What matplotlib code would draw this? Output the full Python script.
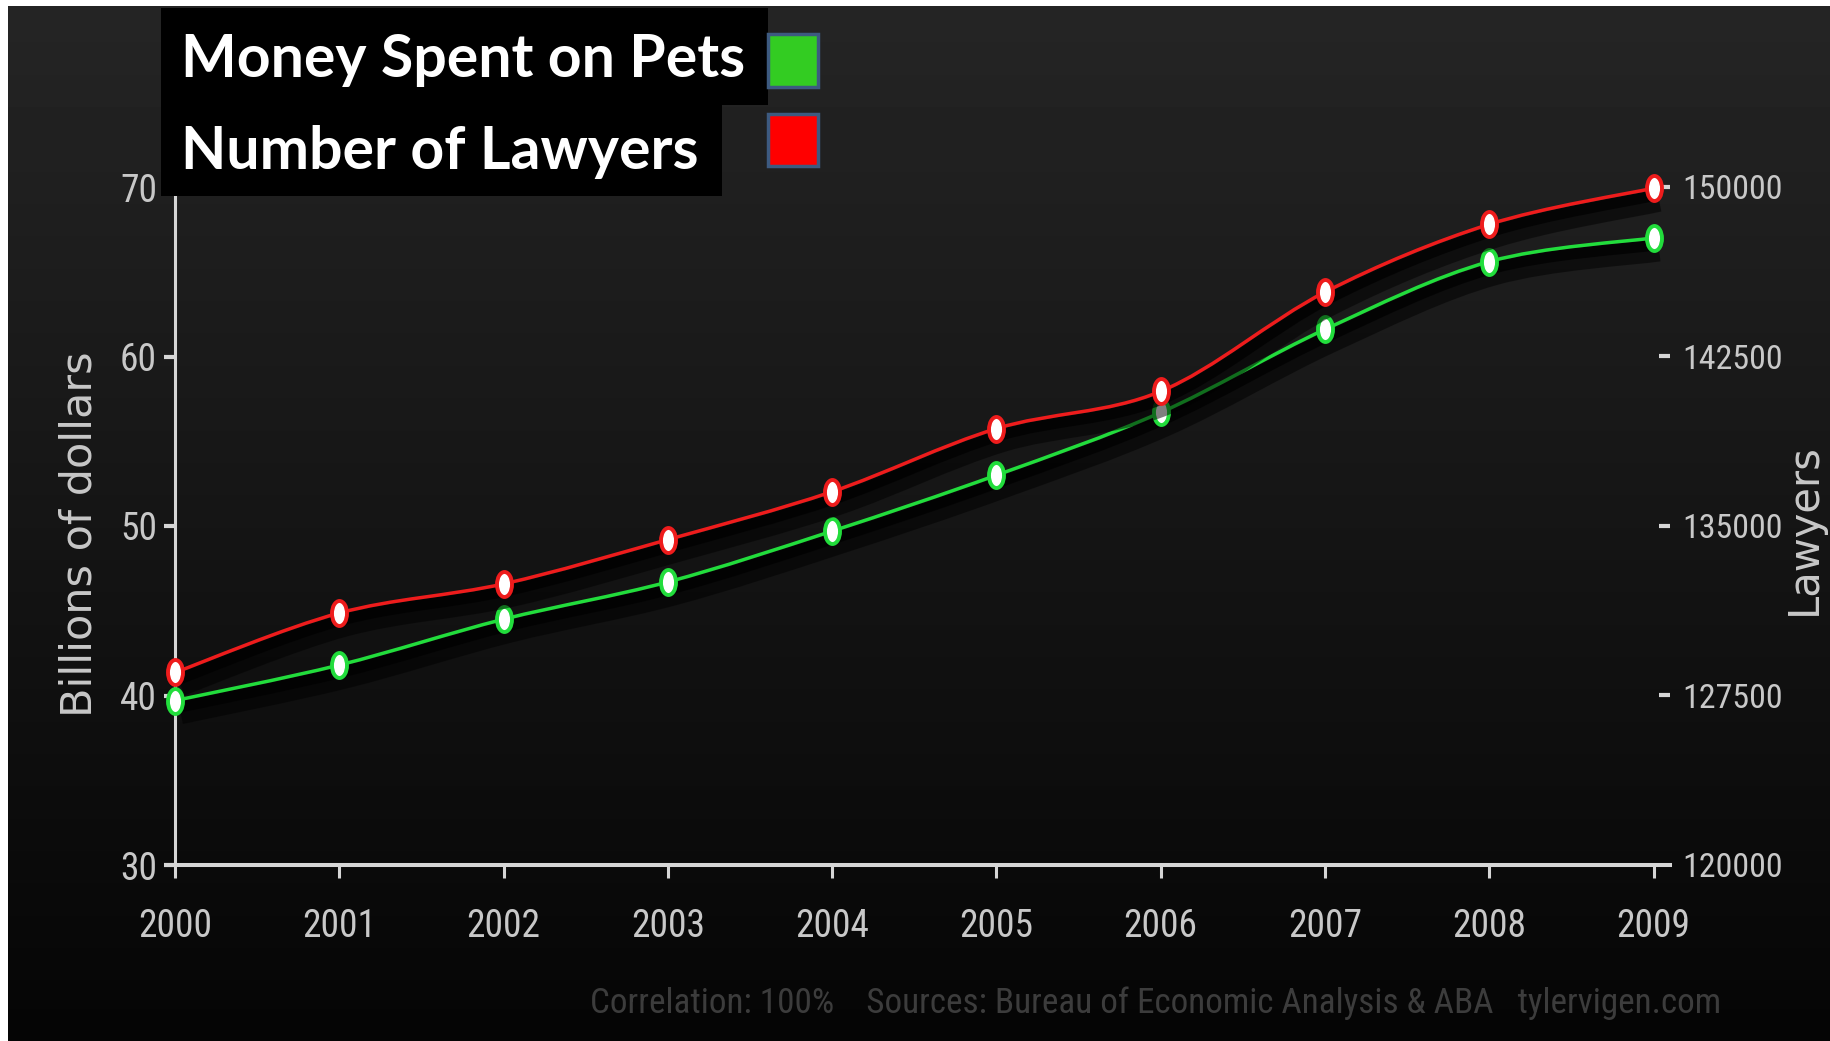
import matplotlib.pyplot as plt
import matplotlib.patheffects as pe
import numpy as np
from matplotlib.path import Path
from matplotlib.patches import PathPatch, Rectangle
from matplotlib.transforms import Affine2D

# ------------------------------
# Data
# ------------------------------
years = [2000, 2001, 2002, 2003, 2004, 2005, 2006, 2007, 2008, 2009]
pet_spending = [39.7, 41.8, 44.5, 46.7, 49.7, 53.0, 56.7, 61.6, 65.6, 67.0]      # billions of dollars
lawyers = [128520, 131150, 132440, 134400, 136520, 139310, 140960, 145350, 148350, 149950]

left_ticks = [30, 40, 50, 60, 70]
right_ticks = [120000, 127500, 135000, 142500, 150000]
grey_left = [40, 60]
grey_right = [127500, 142500]

pet_label = "Money Spent on Pets"
lawyer_label = "Number of Lawyers"
credit = "Correlation: 100%    Sources: Bureau of Economic Analysis & ABA   tylervigen.com"

# ------------------------------
# Style
# ------------------------------
W, H = 1831, 1041
green = "#22dd3c"
red = "#ee1c1c"
axis_col = "#d6d6d6"
label_col = "#c8c8c8"
narrow = ["Roboto Condensed", "Roboto", "DejaVu Sans"]


def spline_path(x, y):
    # Catmull-Rom spline through the points, written as cubic Bezier segments
    p = np.column_stack([x, y]).astype(float)
    pts = np.vstack([p[0], p, p[-1]])
    verts = [p[0]]
    codes = [Path.MOVETO]
    for i in range(1, len(pts) - 2):
        c1 = pts[i] + (pts[i + 1] - pts[i - 1]) / 6.0
        c2 = pts[i + 1] - (pts[i + 2] - pts[i]) / 6.0
        verts += [c1, c2, pts[i + 1]]
        codes += [Path.CURVE4] * 3
    return Path(verts, codes)


shadow = [pe.SimpleLineShadow(offset=(4, -9), shadow_color="black", alpha=0.5, linewidth=16),
          pe.SimpleLineShadow(offset=(2, -5), shadow_color="black", alpha=0.7, linewidth=8),
          pe.Normal()]
ellipse = Path.unit_circle().transformed(Affine2D().scale(0.6, 1.0))

fig = plt.figure(figsize=(W / 100, H / 100), dpi=100, facecolor="white")

# dark gradient backdrop
bg = fig.add_axes([8 / W, 0, 1 - 8 / W, 1 - 6 / H], zorder=-5)
grad = np.linspace(0.02, 0.145, 256).reshape(-1, 1)
bg.imshow(grad, aspect="auto", cmap="gray", vmin=0, vmax=1, origin="lower", extent=[0, 1, 0, 1])
bg.axis("off")

# ------------------------------
# Axes
# ------------------------------
ax = fig.add_axes([166 / W, 1 - 865 / H, (1670 - 166) / W, (865 - 187) / H])
ax.set_facecolor("none")
ax.set_xlim(1999.945, 2009.10)
ax.set_ylim(30, 70)
ax2 = ax.twinx()
ax2.set_ylim(120000, 150000)

for s in ["top", "right"]:
    ax.spines[s].set_visible(False)
for s in ax2.spines.values():
    s.set_visible(False)
ax.spines["left"].set_position(("data", 2000))
ax.spines["left"].set_color(axis_col)
ax.spines["left"].set_linewidth(2.2)
ax.spines["bottom"].set_color(axis_col)
ax.spines["bottom"].set_linewidth(2.9)

ax.set_xticks(years)
ax.set_xticklabels([str(y) for y in years])
ax.tick_params(axis="x", direction="out", length=9, width=2.2, color=axis_col,
               labelcolor=label_col, labelsize=27, pad=22, labelfontfamily=narrow)
ax.set_yticks(left_ticks)
ax.tick_params(axis="y", direction="out", length=8, width=3, color=axis_col,
               labelcolor=label_col, labelsize=27, pad=5, labelfontfamily=narrow)
for t, v in zip(ax.yaxis.get_major_ticks(), left_ticks):
    if v in grey_left:
        t.tick1line.set_color("#8c8c8c")

ax2.set_yticks(right_ticks)
ax2.set_yticklabels([str(v) for v in right_ticks])
ax2.tick_params(axis="y", direction="in", length=8, width=3, color=axis_col,
                labelcolor=label_col, labelsize=24.5, pad=9, labelfontfamily=narrow)
for t, v in zip(ax2.yaxis.get_major_ticks(), right_ticks):
    if v in grey_right:
        t.tick2line.set_color("#8c8c8c")
    if v == 120000:
        t.tick2line.set_visible(False)

ax.set_ylabel("Billions of dollars", color=label_col, fontsize=31)
ax.yaxis.set_label_coords((80 - 166) / 1504, 0.488)
ax.yaxis.label.set_va("center")
ax2.set_ylabel("Lawyers", color=label_col, fontsize=30, rotation=90)
ax2.yaxis.set_label_coords(1 + (1804 - 1670) / 1504, 0.495)
ax2.yaxis.label.set_va("center")

# ------------------------------
# Lines and markers
# ------------------------------
ax.add_patch(PathPatch(spline_path(years, pet_spending), fill=False, edgecolor=green,
                       linewidth=2.5, path_effects=shadow, zorder=3, clip_on=False))
ax.plot(years, pet_spending, linestyle="none", marker=ellipse, markersize=18,
        markerfacecolor="white", markeredgecolor=green, markeredgewidth=2.8, zorder=4, clip_on=False)

ax2.add_patch(PathPatch(spline_path(years, lawyers), fill=False, edgecolor=red,
                        linewidth=2.5, path_effects=shadow, zorder=3, clip_on=False))
ax2.plot(years, lawyers, linestyle="none", marker=ellipse, markersize=18,
         markerfacecolor="white", markeredgecolor=red, markeredgewidth=2.8, zorder=4, clip_on=False)

# ------------------------------
# Legend boxes
# ------------------------------
def fig_rect(x0, y0, x1, y1, **kw):
    fig.add_artist(Rectangle((x0 / W, 1 - y1 / H), (x1 - x0) / W, (y1 - y0) / H,
                             transform=fig.transFigure, **kw))


fig_rect(161, 8, 768, 105, facecolor="black", edgecolor="none", zorder=10)
fig_rect(161, 105, 722, 196, facecolor="black", edgecolor="none", zorder=10)
fig_rect(768, 34, 818, 87, facecolor="#33cc22", edgecolor="#3d5a80", linewidth=2.5, zorder=10)
fig_rect(768, 114, 818, 166, facecolor="#ff0000", edgecolor="#3d5a80", linewidth=2.5, zorder=10)

fig.text(181 / W, 1 - 60 / H, pet_label, color="white", fontsize=42.5, fontweight="bold",
         family="Lato", va="center", ha="left", zorder=11)
fig.text(181 / W, 1 - 152 / H, lawyer_label, color="white", fontsize=42.5, fontweight="bold",
         family="Lato", va="center", ha="left", zorder=11)

fig.text(590 / W, 1 - 1003 / H, credit, color="#3c3c3c", fontsize=25.3, family=narrow,
         va="center", ha="left")

fig.savefig("out.png", dpi=100, facecolor=fig.get_facecolor())
